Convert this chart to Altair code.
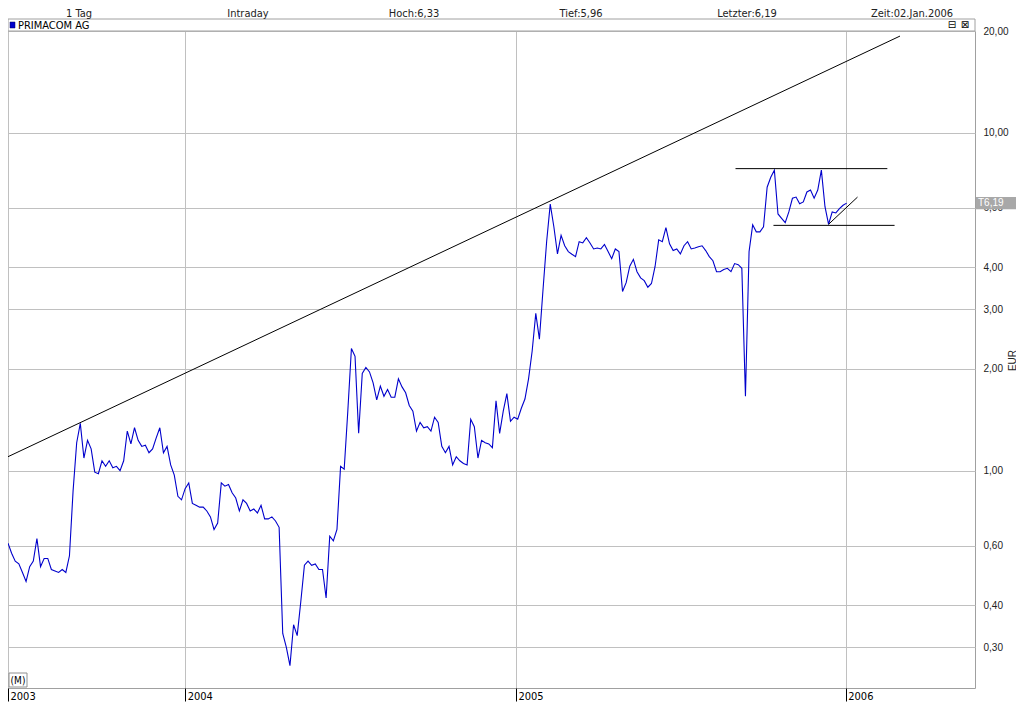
import altair as alt
import pandas as pd

# ---------------- data ----------------
start_date = "2003-06-19"
step_days = 4
prices = [
    0.61, 0.57, 0.54, 0.53, 0.50, 0.47, 0.52, 0.54, 0.63, 0.52,
    0.55, 0.55, 0.51, 0.505, 0.50, 0.51, 0.50, 0.56, 0.87, 1.21,
    1.38, 1.09, 1.23, 1.16, 0.99, 0.98, 1.07, 1.03, 1.07, 1.02,
    1.03, 1.00, 1.07, 1.31, 1.20, 1.34, 1.23, 1.18, 1.19, 1.13,
    1.16, 1.25, 1.34, 1.13, 1.18, 1.04, 0.97, 0.84, 0.82, 0.885,
    0.92, 0.80, 0.79, 0.78, 0.78, 0.76, 0.73, 0.67, 0.70, 0.92,
    0.90, 0.91, 0.86, 0.83, 0.76, 0.82, 0.80, 0.76, 0.77, 0.75,
    0.79, 0.72, 0.72, 0.73, 0.71, 0.68, 0.33, 0.30, 0.265, 0.35,
    0.325, 0.41, 0.525, 0.54, 0.525, 0.53, 0.51, 0.51, 0.42, 0.64,
    0.62, 0.67, 1.03, 1.01, 1.50, 2.30, 2.18, 1.29, 1.94, 2.02,
    1.96, 1.82, 1.62, 1.78, 1.66, 1.74, 1.65, 1.65, 1.87, 1.77,
    1.70, 1.56, 1.50, 1.31, 1.39, 1.34, 1.35, 1.31, 1.44, 1.39,
    1.18, 1.13, 1.18, 1.04, 1.10, 1.07, 1.05, 1.04, 1.42, 1.35,
    1.09, 1.23, 1.21, 1.20, 1.17, 1.61, 1.29, 1.50, 1.69, 1.40,
    1.44, 1.42, 1.53, 1.63, 1.87, 2.26, 2.92, 2.45, 3.43, 4.76,
    6.15, 5.27, 4.38, 4.97, 4.63, 4.45, 4.37, 4.30, 4.76, 4.72,
    4.89, 4.72, 4.53, 4.56, 4.53, 4.67, 4.45, 4.24, 4.53, 4.45,
    3.39, 3.60, 4.03, 4.22, 3.88, 3.72, 3.65, 3.49, 3.58, 4.02,
    4.82, 4.76, 5.24, 4.69, 4.48, 4.53, 4.38, 4.63, 4.76, 4.53,
    4.56, 4.60, 4.63, 4.48, 4.30, 4.18, 3.88, 3.88, 3.94, 3.97,
    3.88, 4.10, 4.07, 3.97, 1.66, 4.45, 5.34, 5.09, 5.09, 5.27,
    6.90, 7.38, 7.75, 5.75, 5.58, 5.42, 5.83, 6.40, 6.45, 6.16,
    6.24, 6.68, 6.77, 6.40, 6.77, 7.75, 6.04, 5.36, 5.83, 5.79,
    5.96, 6.10, 6.19,
]

header_labels = ["1 Tag", "Intraday", "Hoch:6,33", "Tief:5,96", "Letzter:6,19", "Zeit:02.Jan.2006"]
series_name = "PRIMACOM AG"
y_ticks = [0.3, 0.4, 0.6, 1, 2, 3, 4, 6, 10, 20]
last_price = 6.19
tag_low, tag_high = 5.94, 6.45

trend_dates = ["2003-06-19", "2006-03-02"]
trend_vals = [1.10, 19.32]
resist_dates = ["2005-09-01", "2006-02-16"]
resist_vals = [7.83, 7.83]
support_dates = ["2005-10-13", "2006-02-24"]
support_vals = [5.32, 5.32]
up_dates = ["2005-12-13", "2006-01-14"]
up_vals = [5.36, 6.45]

# ---------------- tables ----------------
dates = pd.date_range(start_date, periods=len(prices), freq=f"{step_days}D")
price_df = pd.DataFrame({"date": dates.strftime("%Y-%m-%d"), "price": prices})

lines_df = pd.DataFrame({
    "date": trend_dates + resist_dates + support_dates + up_dates,
    "price": trend_vals + resist_vals + support_vals + up_vals,
    "line": ["trend"] * 2 + ["resist"] * 2 + ["support"] * 2 + ["up"] * 2,
})

tag_df = pd.DataFrame({"price": [tag_low], "price2": [tag_high]})
tag_text_df = pd.DataFrame({"price": [last_price], "label": ["T" + f"{last_price:.2f}".replace(".", ",")]})
one = pd.DataFrame({"a": [0]})

# ---------------- layout ----------------
W, H = 967, 657
NARROW = "Liberation Sans Narrow, Arial Narrow, DejaVu Sans Condensed, sans-serif"
LINECOL = "#0000cc"

xscale = alt.Scale(type="utc",
                   domain=[alt.DateTime(year=2003, month=6, date=19, utc=True),
                           alt.DateTime(year=2006, month=5, date=24, utc=True)])
xaxis = alt.Axis(
    values=[alt.DateTime(year=2003, month=6, date=19, utc=True),
            alt.DateTime(year=2004, month=1, date=1, utc=True),
            alt.DateTime(year=2005, month=1, date=1, utc=True),
            alt.DateTime(year=2006, month=1, date=1, utc=True)],
    labelExpr="utcFormat(datum.value, '%Y')",
    grid=True, gridColor="#c0c0c0", gridWidth=1,
    ticks=True, tickColor="#000000", tickSize=13, tickWidth=1,
    labelAlign="left", labelBaseline="top", labelPadding=-11, labelOffset=2,
    labelFont=NARROW, labelFontSize=11, labelColor="#000000",
    labelFlush=False, labelOverlap=False,
    domain=False, title=None,
)
yscale = alt.Scale(type="log", domain=[0.2275, 20])
yaxis = alt.Axis(
    orient="right", values=y_ticks,
    labelExpr="replace(format(datum.value, '.2f'), '.', ',')",
    grid=True, gridColor="#c0c0c0", gridWidth=1,
    ticks=False, tickSize=0, domain=False,
    labelPadding=8, labelFont="Liberation Sans, Arial, sans-serif",
    labelFontSize=10, labelColor="#222222", labelOverlap=False, labelFlush=False,
    title="EUR", titleFont="Liberation Sans, Arial, sans-serif", titleFontSize=10,
    titleFontWeight="normal", titleColor="#222222", titleAngle=270,
    titleX=37, titleY=329, titleAlign="center", titleBaseline="middle",
)


def X(field="date"):
    return alt.X(f"{field}:T", scale=xscale, axis=xaxis)


def Y(field="price"):
    return alt.Y(f"{field}:Q", scale=yscale, axis=yaxis)


price_line = alt.Chart(price_df).mark_line(color=LINECOL, strokeWidth=1.1, clip=True).encode(
    x=X(), y=Y()
)

draw_lines = alt.Chart(lines_df).mark_line(color="#000000", strokeWidth=1, clip=True).encode(
    x=X(), y=Y(), detail="line:N"
)

tag_rect = alt.Chart(tag_df).mark_rect(color="#a8a8a8").encode(
    x=alt.value(968), x2=alt.value(1008), y=Y("price"), y2="price2:Q"
)
tag_text = alt.Chart(tag_text_df).mark_text(
    align="left", baseline="middle", color="#ffffff", font="Liberation Sans, Arial, sans-serif", fontSize=10
).encode(x=alt.value(970), y=Y("price"), text="label:N")

legend_bar = alt.Chart(one).mark_rect(fill="#ffffff", stroke="#a0a0a0", strokeWidth=1).encode(
    x=alt.value(0), x2=alt.value(W), y=alt.value(-12), y2=alt.value(0)
)
legend_sq = alt.Chart(one).mark_rect(fill=LINECOL, stroke="#000060", strokeWidth=0.5).encode(
    x=alt.value(2), x2=alt.value(7), y=alt.value(-9), y2=alt.value(-3)
)
legend_txt = alt.Chart(pd.DataFrame({"t": [series_name]})).mark_text(
    align="left", baseline="middle", font=NARROW, fontSize=11, color="#000000"
).encode(x=alt.value(10), y=alt.value(-5.5), text="t:N")

icons = []
for glyph, ix in zip(["\u229f", "\u22a0"], [944, 957]):
    icons.append(alt.Chart(pd.DataFrame({"t": [glyph]})).mark_text(
        align="center", baseline="middle", font="DejaVu Sans", fontSize=10, color="#000000"
    ).encode(x=alt.value(ix), y=alt.value(-6), text="t:N"))

header_x = [71, 240, 406, 573, 739, 904]
headers = []
for lab, hx in zip(header_labels, header_x):
    headers.append(alt.Chart(pd.DataFrame({"t": [lab]})).mark_text(
        align="center", baseline="alphabetic", font=NARROW, fontSize=11, color="#222222"
    ).encode(x=alt.value(hx), y=alt.value(-14), text="t:N"))

m_box = alt.Chart(one).mark_rect(fill="#ffffff", stroke="#909090", strokeWidth=1).encode(
    x=alt.value(1), x2=alt.value(19), y=alt.value(642), y2=alt.value(656)
)
m_txt = alt.Chart(pd.DataFrame({"t": ["(M)"]})).mark_text(
    align="center", baseline="middle", font=NARROW, fontSize=10, color="#000000"
).encode(x=alt.value(10), y=alt.value(649.5), text="t:N")

chart = alt.layer(
    price_line, draw_lines, tag_rect, tag_text, legend_bar, legend_sq, legend_txt,
    *icons, *headers, m_box, m_txt
).properties(
    width=W, height=H,
    autosize=alt.AutoSizeParams(type="none"),
    padding={"left": 0, "top": 23, "right": 41, "bottom": 14},
    background="#ffffff",
).configure_view(stroke="#a0a0a0", strokeWidth=1)

chart.save("out.html", embed_options={"renderer": "svg", "actions": False})
